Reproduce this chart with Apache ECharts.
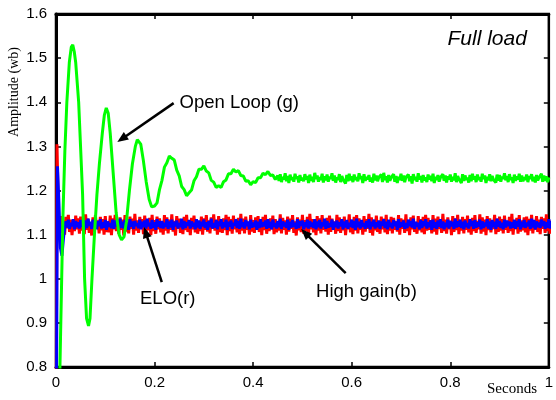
<!DOCTYPE html>
<html>
<head>
<meta charset="utf-8">
<script src="https://cdn.jsdelivr.net/npm/echarts@6/dist/echarts.min.js"></script>
<style>html,body{margin:0;padding:0;background:#fff}#c{width:556px;height:400px}</style>
</head>
<body>
<div id="c"></div>
<script>
// ---- axis ticks ----
const xTicks = [0, 0.2, 0.4, 0.6, 0.8, 1];
const yTicks = [0.8, 0.9, 1, 1.1, 1.2, 1.3, 1.4, 1.5, 1.6];

// ---- Open loop (green): transient ----
const greenT = [0.004,0.008,0.014,0.018,0.022,0.027,0.031,0.034,0.037,0.040,0.046,0.054,0.058,0.062,0.066,0.069,0.073,0.078,0.083,0.088,0.094,0.098,0.102,0.106,0.110,0.116,0.122,0.128,0.133,0.138,0.143,0.149,0.155,0.161,0.165,0.168,0.172,0.177,0.183,0.189,0.194,
0.200,0.205,0.210,0.215,0.220,0.225,0.230,0.235,0.240,0.245,0.250,0.255,0.260,0.265,0.270,0.275,0.280,0.285,0.290,0.295,0.300,0.305,0.310,0.315,0.320,0.325,0.330,0.335,0.340,0.345,0.350,0.355,0.360,0.365,0.370,0.375,0.380,0.385,0.390,0.395,0.400,0.405,0.410,0.415,0.420,0.425,0.430,0.435,0.440,0.445];
const greenV = [0.55,0.80,1.14,1.29,1.40,1.49,1.525,1.53,1.515,1.49,1.40,1.19,1.00,0.91,0.893,0.91,1.00,1.10,1.19,1.26,1.33,1.37,1.387,1.375,1.33,1.24,1.15,1.10,1.088,1.095,1.13,1.20,1.26,1.30,1.315,1.318,1.305,1.27,1.22,1.18,1.163,
1.165,1.172,1.202,1.223,1.253,1.263,1.278,1.273,1.269,1.246,1.233,1.209,1.202,1.188,1.195,1.201,1.222,1.231,1.248,1.248,1.256,1.244,1.240,1.223,1.219,1.207,1.211,1.207,1.220,1.224,1.238,1.238,1.248,1.242,1.245,1.234,1.233,1.221,1.222,1.213,1.220,1.218,1.229,1.229,1.239,1.236,1.243,1.234,1.235,1.225];
const greenNoiseStart = 0.450;
const greenNoiseStep = 0.0025;
const greenNoise = [
1.234,1.222,1.237,1.219,1.231,1.225,1.239,1.221,1.233,1.217,1.236,1.224,1.230,1.220,1.238,1.226,1.232,1.218,1.235,1.223,
1.229,1.221,1.237,1.225,1.233,1.217,1.236,1.222,1.231,1.219,1.240,1.226,1.234,1.220,1.230,1.224,1.238,1.218,1.232,1.223,
1.236,1.220,1.231,1.226,1.239,1.222,1.234,1.218,1.230,1.224,1.237,1.219,1.233,1.225,1.229,1.216,1.235,1.221,1.238,1.223,
1.232,1.219,1.236,1.224,1.230,1.221,1.239,1.226,1.233,1.217,1.237,1.222,1.231,1.225,1.235,1.220,1.229,1.218,1.238,1.223,
1.234,1.221,1.230,1.226,1.236,1.219,1.240,1.224,1.232,1.218,1.235,1.222,1.229,1.225,1.237,1.220,1.233,1.217,1.231,1.224,
1.238,1.222,1.234,1.219,1.230,1.226,1.236,1.221,1.232,1.216,1.237,1.224,1.231,1.220,1.239,1.225,1.233,1.218,1.235,1.223,
1.230,1.219,1.236,1.225,1.233,1.221,1.238,1.217,1.231,1.224,1.235,1.220,1.229,1.226,1.237,1.222,1.234,1.218,1.232,1.225,
1.236,1.220,1.231,1.223,1.239,1.219,1.233,1.226,1.230,1.217,1.237,1.222,1.234,1.224,1.229,1.218,1.235,1.221,1.238,1.225,
1.232,1.219,1.236,1.224,1.230,1.220,1.238,1.226,1.234,1.217,1.231,1.223,1.237,1.221,1.233,1.225,1.229,1.218,1.236,1.222,
1.235,1.220,1.231,1.226,1.239,1.223,1.233,1.219,1.237,1.224,1.230,1.217,1.236,1.222,1.232,1.225,1.238,1.220,1.234,1.221,
1.230,1.224,1.236,1.219,1.233,1.226,1.237,1.221,1.231,1.218,1.235,1.223,1.229,1.225,1.238,1.220,1.234,1.222,1.232,1.219,
1.230];

// ---- ELO (red) ----
const redT = [0.000,0.002];
const redV = [0.50,1.305];
const redNoiseStart = 0.005;
const redNoiseStep = 0.0025;
const redNoise = [
1.138,1.110,1.142,1.104,1.131,1.100,1.140,1.114,1.145,1.106,1.134,1.099,1.129,1.108,1.143,1.112,1.137,1.102,1.141,1.109,
1.133,1.101,1.146,1.111,1.136,1.104,1.128,1.098,1.139,1.107,1.144,1.113,1.132,1.103,1.140,1.110,1.135,1.100,1.142,1.106,
1.130,1.105,1.143,1.099,1.137,1.112,1.145,1.108,1.131,1.102,1.139,1.111,1.134,1.098,1.144,1.107,1.129,1.103,1.141,1.113,
1.136,1.100,1.147,1.109,1.132,1.104,1.140,1.114,1.135,1.101,1.143,1.106,1.128,1.110,1.138,1.099,1.145,1.108,1.133,1.102,
1.141,1.112,1.137,1.105,1.130,1.100,1.144,1.109,1.139,1.103,1.134,1.111,1.146,1.107,1.131,1.098,1.142,1.113,1.136,1.104,
1.129,1.101,1.140,1.110,1.145,1.106,1.133,1.099,1.138,1.112,1.143,1.105,1.135,1.102,1.128,1.108,1.141,1.100,1.137,1.111,
1.144,1.107,1.132,1.103,1.139,1.113,1.146,1.109,1.134,1.100,1.142,1.106,1.130,1.104,1.137,1.110,1.145,1.099,1.140,1.108,
1.135,1.102,1.143,1.112,1.131,1.105,1.138,1.101,1.147,1.109,1.136,1.103,1.141,1.111,1.129,1.100,1.144,1.107,1.133,1.104,
1.139,1.113,1.142,1.106,1.134,1.099,1.140,1.110,1.145,1.102,1.131,1.108,1.137,1.112,1.143,1.101,1.135,1.105,1.128,1.109,
1.146,1.103,1.138,1.111,1.132,1.100,1.141,1.107,1.136,1.113,1.144,1.104,1.130,1.098,1.139,1.110,1.134,1.106,1.145,1.102,
1.133,1.108,1.140,1.101,1.147,1.112,1.135,1.105,1.129,1.099,1.142,1.109,1.137,1.103,1.144,1.111,1.131,1.107,1.138,1.100,
1.143,1.106,1.136,1.113,1.130,1.102,1.145,1.108,1.139,1.104,1.134,1.110,1.141,1.099,1.128,1.112,1.146,1.105,1.132,1.101,
1.140,1.109,1.144,1.103,1.137,1.111,1.131,1.100,1.142,1.107,1.135,1.113,1.147,1.104,1.139,1.098,1.133,1.110,1.143,1.106,
1.129,1.102,1.141,1.112,1.136,1.105,1.145,1.101,1.132,1.109,1.140,1.103,1.138,1.111,1.130,1.107,1.144,1.100,1.137,1.113,
1.134,1.104,1.146,1.108,1.131,1.099,1.139,1.112,1.143,1.106,1.128,1.102,1.142,1.110,1.135,1.105,1.140,1.101,1.145,1.109,
1.138,1.111,1.133,1.103,1.144,1.107,1.136,1.100,1.141,1.113,1.130,1.104,1.147,1.108,1.134,1.102,1.139,1.112,1.131,1.099,
1.142,1.106,1.137,1.110,1.145,1.101,1.132,1.109,1.140,1.103,1.135,1.111,1.143,1.105,1.129,1.100,1.138,1.108,1.144,1.104,
1.131,1.112,1.146,1.102,1.139,1.107,1.134,1.099,1.142,1.110,1.137,1.105,1.130,1.113,1.145,1.101,1.136,1.106,1.141,1.109,
1.135,1.103,1.143,1.111,1.128,1.104,1.140,1.108,1.147,1.100,1.133,1.112,1.138,1.102,1.144,1.107,1.132,1.110,1.139,1.105,
1.141,1.099,1.136,1.109,1.145,1.103,1.130,1.111,1.142,1.106,1.134,1.101,1.140,1.113,1.137,1.104,1.146,1.108,1.133,1.102];

// ---- High gain (blue) ----
const blueT = [0.000,0.003,0.006,0.009,0.012,0.015,0.018];
const blueV = [0.50,1.255,1.17,1.07,1.052,1.09,1.12];
const blueNoiseStart = 0.020;
const blueNoiseStep = 0.0025;
const blueNoise = [
1.130,1.116,1.134,1.113,1.127,1.119,1.135,1.112,1.131,1.117,1.128,1.114,1.133,1.118,1.126,1.111,1.132,1.115,1.136,1.120,
1.129,1.113,1.134,1.117,1.127,1.112,1.131,1.119,1.135,1.114,1.128,1.116,1.133,1.111,1.130,1.118,1.126,1.115,1.134,1.113,
1.132,1.119,1.128,1.112,1.136,1.116,1.129,1.114,1.133,1.117,1.127,1.111,1.135,1.118,1.130,1.113,1.131,1.120,1.126,1.115,
1.134,1.112,1.129,1.117,1.132,1.114,1.136,1.119,1.127,1.113,1.133,1.116,1.128,1.111,1.135,1.118,1.130,1.115,1.131,1.114,
1.127,1.118,1.135,1.113,1.130,1.116,1.134,1.111,1.129,1.119,1.132,1.114,1.126,1.117,1.136,1.112,1.131,1.115,1.128,1.120,
1.133,1.114,1.130,1.118,1.127,1.112,1.135,1.116,1.132,1.113,1.129,1.119,1.134,1.115,1.128,1.111,1.131,1.117,1.136,1.114,
1.126,1.116,1.133,1.112,1.130,1.119,1.135,1.114,1.128,1.117,1.134,1.111,1.129,1.118,1.132,1.113,1.127,1.120,1.135,1.115,
1.131,1.113,1.136,1.117,1.128,1.114,1.133,1.119,1.130,1.112,1.134,1.116,1.127,1.118,1.132,1.111,1.129,1.115,1.135,1.117,
1.128,1.119,1.132,1.113,1.135,1.116,1.129,1.112,1.134,1.118,1.126,1.114,1.131,1.117,1.136,1.113,1.130,1.119,1.127,1.115,
1.134,1.111,1.129,1.116,1.133,1.118,1.127,1.113,1.135,1.115,1.130,1.120,1.132,1.112,1.128,1.117,1.134,1.114,1.131,1.118,
1.127,1.115,1.135,1.112,1.130,1.117,1.133,1.114,1.128,1.119,1.136,1.113,1.131,1.116,1.126,1.118,1.134,1.111,1.129,1.117,
1.132,1.114,1.128,1.119,1.135,1.112,1.130,1.116,1.133,1.113,1.127,1.118,1.134,1.115,1.131,1.111,1.136,1.117,1.129,1.114,
1.133,1.118,1.126,1.113,1.131,1.116,1.135,1.112,1.129,1.119,1.134,1.114,1.128,1.117,1.132,1.113,1.130,1.120,1.135,1.115,
1.129,1.112,1.134,1.117,1.127,1.114,1.133,1.119,1.130,1.111,1.135,1.116,1.128,1.118,1.132,1.113,1.126,1.115,1.134,1.119,
1.131,1.116,1.136,1.113,1.129,1.118,1.127,1.112,1.133,1.115,1.130,1.119,1.135,1.114,1.128,1.117,1.132,1.111,1.134,1.116,
1.128,1.113,1.132,1.118,1.135,1.115,1.130,1.112,1.127,1.117,1.134,1.114,1.131,1.119,1.129,1.113,1.136,1.116,1.130,1.118,
1.134,1.115,1.129,1.112,1.132,1.117,1.126,1.114,1.135,1.119,1.131,1.113,1.133,1.116,1.128,1.118,1.134,1.112,1.130,1.115,
1.127,1.119,1.135,1.114,1.130,1.111,1.133,1.117,1.129,1.113,1.136,1.118,1.131,1.115,1.127,1.112,1.134,1.116,1.132,1.119,
1.130,1.114,1.128,1.116,1.134,1.113,1.131,1.118,1.135,1.112,1.129,1.117,1.133,1.115,1.127,1.119,1.132,1.113,1.136,1.116,
1.133,1.112,1.130,1.117,1.127,1.115,1.134,1.119,1.131,1.113,1.128,1.116,1.135,1.114,1.130,1.118,1.133,1.111,1.129,1.117];

// ---- annotations (data coordinates) ----
const annotations = [
  {text:'Open Loop (g)', tx:0.2507, ty:1.398, from:[0.2387,1.398], to:[0.1244,1.3098]},
  {text:'ELO(r)',        tx:0.1705, ty:0.9537, from:[0.2146,0.9923], to:[0.1785,1.117]},
  {text:'High gain(b)',  tx:0.5276, ty:0.9696, from:[0.5878,1.0127], to:[0.4975,1.1125]}
];
const cornerText = {text:'Full load', tx:0.7944, ty:1.5422};

function build(ts, vs, start, step, noise){
  const d = ts.map((t,i)=>[t, vs[i]]);
  noise.forEach((v,i)=>d.push([+(start + i*step).toFixed(4), v]));
  return d;
}
const redData = build(redT, redV, redNoiseStart, redNoiseStep, redNoise);
const blueData = build(blueT, blueV, blueNoiseStart, blueNoiseStep, blueNoise);
const greenData = build(greenT, greenV, greenNoiseStart, greenNoiseStep, greenNoise);

const chart = echarts.init(document.getElementById('c'), null, {renderer:'canvas'});
const fmt = v => String(+(+v).toFixed(1));
const labelFont = {fontFamily:'Liberation Sans, Arial, sans-serif', fontSize:15, color:'#000'};
const tickStyle = {show:true, inside:true, length:5, lineStyle:{color:'#000', width:1.5}};

chart.setOption({
  animation:false,
  backgroundColor:'#fff',
  grid:{left:56, right:2, top:14, bottom:33, show:true, borderColor:'#000', borderWidth:2.5, backgroundColor:'#fff'},
  xAxis:[
    {type:'value', min:xTicks[0], max:xTicks[xTicks.length-1], interval:0.2, position:'bottom',
     axisLine:{show:true, onZero:false, lineStyle:{color:'#000', width:3}},
     axisTick:tickStyle, splitLine:{show:false},
     axisLabel:Object.assign({margin:8, formatter:fmt, showMaxLabel:true}, labelFont)},
    {type:'value', min:xTicks[0], max:xTicks[xTicks.length-1], interval:0.2, position:'top',
     axisLine:{show:true, onZero:false, lineStyle:{color:'#000', width:3}},
     axisTick:tickStyle, splitLine:{show:false}, axisLabel:{show:false}}
  ],
  yAxis:[
    {type:'value', min:yTicks[0], max:yTicks[yTicks.length-1], interval:0.1, position:'left',
     axisLine:{show:true, onZero:false, lineStyle:{color:'#000', width:3}},
     axisTick:tickStyle, splitLine:{show:false},
     axisLabel:Object.assign({margin:9, formatter:fmt}, labelFont)},
    {type:'value', min:yTicks[0], max:yTicks[yTicks.length-1], interval:0.1, position:'right',
     axisLine:{show:true, onZero:false, lineStyle:{color:'#000', width:2}},
     axisTick:tickStyle, splitLine:{show:false}, axisLabel:{show:false}}
  ],
  series:[
    {name:'ELO', type:'line', data:redData, showSymbol:false, symbol:'none', lineStyle:{color:'#ff0000', width:3}, z:2},
    {name:'High gain', type:'line', data:blueData, showSymbol:false, symbol:'none', lineStyle:{color:'#0000ff', width:3}, z:3},
    {name:'Open Loop', type:'line', data:greenData, showSymbol:false, symbol:'none', lineStyle:{color:'#00ff00', width:3}, z:4}
  ]
});

const g = [];
const px = p => chart.convertToPixel({gridIndex:0}, p);
annotations.forEach(a=>{
  const s = px(a.from), e = px(a.to);
  const dx = e[0]-s[0], dy = e[1]-s[1], L = Math.hypot(dx,dy), ux = dx/L, uy = dy/L;
  const hl = 11, hw = 4.5;
  const bx = e[0]-ux*hl, by = e[1]-uy*hl;
  g.push({type:'line', shape:{x1:s[0], y1:s[1], x2:bx+ux*2, y2:by+uy*2}, style:{stroke:'#000', lineWidth:2.5}, z:100});
  g.push({type:'polygon', shape:{points:[[e[0],e[1]],[bx-uy*hw,by+ux*hw],[bx+uy*hw,by-ux*hw]]}, style:{fill:'#000'}, z:100});
  const tp = px([a.tx, a.ty]);
  g.push({type:'text', x:tp[0], y:tp[1], style:{text:a.text, fontFamily:'Liberation Sans, Arial, sans-serif', fontSize:18.5, fill:'#000', verticalAlign:'middle', align:'left'}, z:100});
});
const cp = px([cornerText.tx, cornerText.ty]);
g.push({type:'text', x:cp[0], y:cp[1], style:{text:cornerText.text, fontFamily:'Liberation Sans, Arial, sans-serif', fontStyle:'italic', fontSize:21, fill:'#000', verticalAlign:'middle', align:'left'}, z:100});
g.push({type:'text', x:14, y:92, rotation:Math.PI/2, style:{text:'Amplitude (wb)', fontFamily:'Liberation Serif, Times New Roman, serif', fontSize:14, fill:'#000', align:'center', verticalAlign:'middle'}, z:100});
g.push({type:'text', x:487, y:389, style:{text:'Seconds', fontFamily:'Liberation Serif, Times New Roman, serif', fontSize:15, fill:'#000', align:'left', verticalAlign:'middle'}, z:100});
chart.setOption({graphic:g});
</script>
</body>
</html>
